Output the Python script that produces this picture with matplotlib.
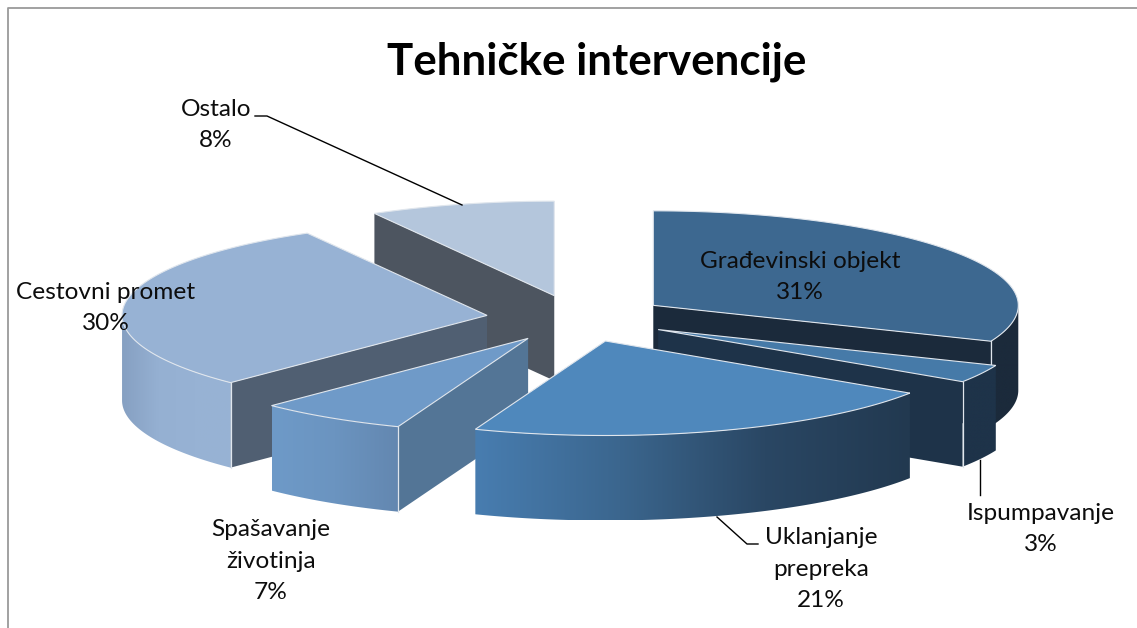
import numpy as np
import matplotlib
matplotlib.use("Agg")
import matplotlib.pyplot as plt
from matplotlib.patches import Polygon
from matplotlib.colors import LinearSegmentedColormap

categories = ["Građevinski objekt", "Ispumpavanje", "Uklanjanje\nprepreka",
              "Spašavanje\nživotinja", "Cestovni promet", "Ostalo"]
shares = [31.2, 3.1, 21.5, 6.6, 29.4, 8.2]
pct_labels = ["31%", "3%", "21%", "7%", "30%", "8%"]

top_colors = ["#3d6890", "#467aa8", "#4f88bc", "#6f9ac8", "#97b2d4", "#b4c6dc"]
cut_colors = ["#1b2a3b", "#1e3349", "#1e3349", "#537596", "#505f72", "#4d5560"]
arc_ramps = [["#1b2a3b", "#1b2a3b"],
             ["#1e3349", "#1e3349"],
             ["#487db0", "#3b668e", "#2a4764", "#223950"],
             ["#6e9ac8", "#6b94c0", "#6387b0"],
             ["#86a0c2", "#95b0d2", "#97b2d4", "#98b3d4"],
             ["#4d5560", "#4d5560"]]

CX, CY, RX, RY, DEPTH, EXPLODE = 577.5, 318.5, 365.0, 94.5, 85.0, 0.25
EDGE = "#e0e6ed"

plt.rcParams["font.family"] = ["Lato", "DejaVu Sans"]
fig = plt.figure(figsize=(11.37, 6.28), dpi=100)
ax = fig.add_axes([0, 0, 1, 1])
ax.set_xlim(0, 1137)
ax.set_ylim(628, 0)
ax.axis("off")

# chart frame
ax.plot([8, 8, 1137], [628, 8, 8], color="#9a9a9a", lw=1.3, zorder=0)


def point(theta, ox, oy, r=1.0):
    return ox + RX * r * np.sin(theta), oy - RY * r * np.cos(theta)


ends = np.deg2rad(np.cumsum(shares) * 3.6)
starts = np.concatenate([[0.0], ends[:-1]])
order = [5, 0, 4, 1, 3, 2]

for i in order:
    a, b = starts[i], ends[i]
    mid = (a + b) / 2
    ox, oy = point(mid, CX, CY, EXPLODE)
    z = 2 + order.index(i)
    # cut faces facing the viewer
    faces = []
    if np.sin(a) < -1e-6:
        faces.append(a)
    if np.sin(b) > 1e-6:
        faces.append(b)
    for t in faces:
        px, py = point(t, ox, oy)
        ax.fill([ox, px, px, ox], [oy, py, py + DEPTH, oy + DEPTH],
                facecolor=cut_colors[i], edgecolor="none", zorder=z)
    # outer wall, front half only, with a horizontal gradient
    lo, hi = max(a, np.pi / 2), min(b, 3 * np.pi / 2)
    if hi > lo:
        th = np.linspace(lo, hi, 161)
        xs, ys = point(th, ox, oy)
        xmin, xmax = xs.min(), xs.max()
        cmap = LinearSegmentedColormap.from_list("r", arc_ramps[i])
        wall = np.c_[np.r_[xs, xs[::-1]], np.r_[ys, ys[::-1] + DEPTH]]
        clip = Polygon(wall, closed=True, transform=ax.transData, facecolor="none",
                       edgecolor="none")
        ax.add_patch(clip)
        im = ax.imshow(np.linspace(0, 1, 256)[None, :], cmap=cmap, aspect="auto",
                       extent=(xmin, xmax, ys.max() + DEPTH, ys.min()),
                       interpolation="bilinear", zorder=z + 0.1)
        im.set_clip_path(clip)
    # vertical edges where the wall meets a cut
    for t in faces:
        if np.pi / 2 < t < 3 * np.pi / 2:
            px, py = point(t, ox, oy)
            ax.plot([px, px], [py, py + DEPTH], color=EDGE, lw=0.9, zorder=z + 0.2)
    # top face
    th = np.linspace(a, b, 200)
    xs, ys = point(th, ox, oy)
    ax.fill(np.r_[ox, xs], np.r_[oy, ys], facecolor=top_colors[i],
            edgecolor=EDGE, lw=0.8, zorder=z + 0.3, joinstyle="miter")

ax.set_xlim(0, 1137)
ax.set_ylim(628, 0)

# leader lines
leaders = [([255, 267, 462], [116, 116, 205]),
           ([980, 980], [460, 495]),
           ([717, 747, 758], [517, 544, 544])]
for lx, ly in leaders:
    ax.plot(lx, ly, color="black", lw=1.0, zorder=20)

# labels: x, y of the block centre
label_pos = [(800, 277), (1041, 529), (821, 569), (271, 561), (106, 308), (216, 125)]
for name, pct, (x, y) in zip(categories, pct_labels, label_pos):
    ax.text(x, y, f"{name}\n{pct}", ha="center", va="center", fontsize=17.6,
            color="#0d0d0d", linespacing=1.63, zorder=30)

ax.text(597, 62, "Tehničke intervencije", ha="center", va="center",
        fontsize=31.6, fontweight="bold", color="black", zorder=30)

fig.savefig("out.png", dpi=100, facecolor="white")
